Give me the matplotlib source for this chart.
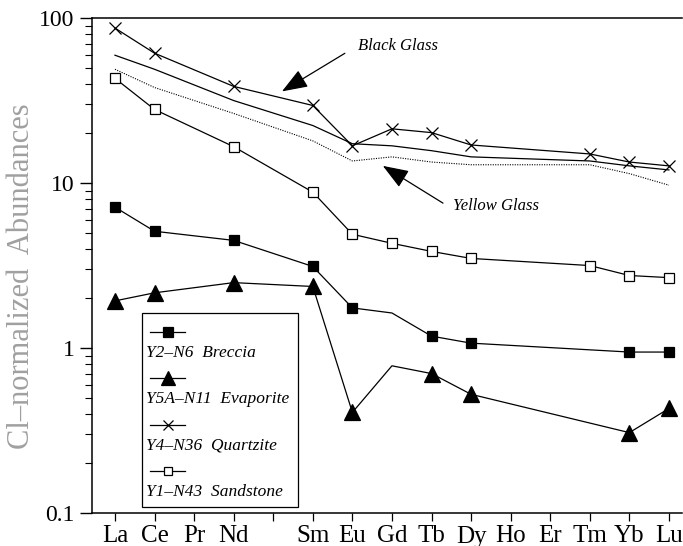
import numpy as np
import matplotlib.pyplot as plt
from matplotlib.ticker import FixedLocator, LogLocator, NullFormatter
from matplotlib.patches import Rectangle

plt.rcParams['font.family'] = ['Liberation Serif', 'DejaVu Serif']

# chondrite-normalized REE data
nan = np.nan
ree = ['La', 'Ce', 'Pr', 'Nd', '', 'Sm', 'Eu', 'Gd', 'Tb', 'Dy', 'Ho', 'Er', 'Tm', 'Yb', 'Lu']
black_glass = [59.5, 48.9, nan, 31.6, nan, 22.3, 17.3, 16.8, 15.7, 14.4, nan, nan, 13.6, 12.7, 12.0]
yellow_glass = [48.9, 37.9, nan, 26.4, nan, 18.0, 13.6, 14.4, 13.4, 12.9, nan, nan, 12.9, 11.4, 9.7]
quartzite = [86.9, 61.2, nan, 38.5, nan, 29.5, 16.8, 21.3, 20.2, 17.0, nan, nan, 15.0, 13.4, 12.7]
sandstone = [43.1, 27.9, nan, 16.6, nan, 8.8, 4.89, 4.31, 3.85, 3.49, nan, nan, 3.16, 2.75, 2.67]
breccia = [7.14, 5.10, nan, 4.49, nan, 3.12, 1.75, 1.63, 1.18, 1.07, nan, nan, nan, 0.945, 0.945]
evaporite = [1.93, 2.16, nan, 2.49, nan, 2.36, 0.407, 0.78, 0.70, 0.524, nan, nan, nan, 0.307, 0.43]
# Gd point of breccia / evaporite is drawn without a symbol
no_symbol = ['Gd']

fig = plt.figure(figsize=(6.83, 5.46), dpi=100)
ax = fig.add_axes([92 / 683, 1 - 513 / 546, 590 / 683, 495 / 546])
x = np.arange(len(ree))


def draw(vals, marker=None, ms=8, mfc='k', ls='-', lw=0.9, skip=()):
    v = np.array(vals, dtype=float)
    m = np.isfinite(v)
    ax.plot(x[m], v[m], color='k', ls=ls, lw=lw)
    if marker:
        mm = m & np.array([r not in skip for r in ree])
        ax.plot(x[mm], v[mm], ls='none', marker=marker, ms=ms, mfc=mfc, mec='k', mew=0.9)


draw(black_glass)
draw(yellow_glass, ls=(0, (1, 1.2)), lw=0.8)
draw(quartzite, marker='x', ms=8)
draw(sandstone, marker='s', ms=7, mfc='white')
draw(breccia, marker='s', ms=7.5, skip=no_symbol)
draw(evaporite, marker='^', ms=11, skip=no_symbol)

ax.set_yscale('log')
ax.set_ylim(0.1, 100)
ax.set_xlim(-0.58, 14.33)
ax.yaxis.set_major_locator(FixedLocator([0.1, 1, 10, 100]))
ax.set_yticklabels(['0.1', '1', '10', '100'])
ax.yaxis.set_minor_locator(LogLocator(base=10, subs=np.arange(2, 10)))
ax.yaxis.set_minor_formatter(NullFormatter())
ax.set_xticks(x)
ax.set_xticklabels(ree)
ax.tick_params(axis='y', which='major', length=9, width=1, labelsize=17, direction='out')
ax.tick_params(axis='y', which='minor', length=5, width=0.8, direction='out')
ax.tick_params(axis='x', length=6, width=0.9, labelsize=18, direction='out', pad=3)
ax.spines['right'].set_visible(False)
for s in ['left', 'bottom', 'top']:
    ax.spines[s].set_linewidth(1.1)

fig.text(0.032, 0.495, 'Cl\u2013normalized  Abundances', rotation=90, ha='center', va='center',
         fontsize=22, color='#a0a0a0')

# labels with arrows
arrow = dict(arrowstyle='-|>,head_length=1.6,head_width=0.6', color='k', lw=0.9,
             shrinkA=0, shrinkB=0)
ax.annotate('', xy=(4.22, 35.9), xytext=(5.81, 61.1), arrowprops=arrow)
ax.text(6.14, 67.5, 'Black Glass', style='italic', fontsize=12, ha='left', va='center')
ax.annotate('', xy=(6.77, 12.7), xytext=(8.29, 7.55), arrowprops=arrow)
ax.text(8.54, 7.24, 'Yellow Glass', style='italic', fontsize=12, ha='left', va='center')


# hand-made legend: symbol above its label
def frac(px, py):
    return (px - 92) / 590, (513 - py) / 495


bx0, by0 = frac(142, 507)
bx1, by1 = frac(298, 313)
ax.add_patch(Rectangle((bx0, by0), bx1 - bx0, by1 - by0, transform=ax.transAxes,
                       fill=True, fc='white', ec='k', lw=0.9, zorder=5))
entries = [('s', 'k', 7, 'Y2\u2013N6  Breccia'),
           ('^', 'k', 10, 'Y5A\u2013N11  Evaporite'),
           ('x', 'k', 6.5, 'Y4\u2013N36  Quartzite'),
           ('s', 'white', 5.5, 'Y1\u2013N43  Sandstone')]
rows = [332, 378, 425, 471]
for (mk, fc, ms, lab), py in zip(entries, rows):
    xa, ya = frac(150, py)
    xb, _ = frac(185, py)
    xm, _ = frac(168, py)
    ax.plot([xa, xb], [ya, ya], color='k', lw=0.9, transform=ax.transAxes, zorder=6)
    ax.plot([xm], [ya], marker=mk, ms=ms, mfc=fc, mec='k', mew=0.9, ls='none',
            transform=ax.transAxes, zorder=6)
    tx, ty = frac(146, py + 21)
    ax.text(tx, ty, lab, style='italic', fontsize=12.5, ha='left', va='center',
            transform=ax.transAxes, zorder=6)

plt.savefig('out.png', dpi=100)
